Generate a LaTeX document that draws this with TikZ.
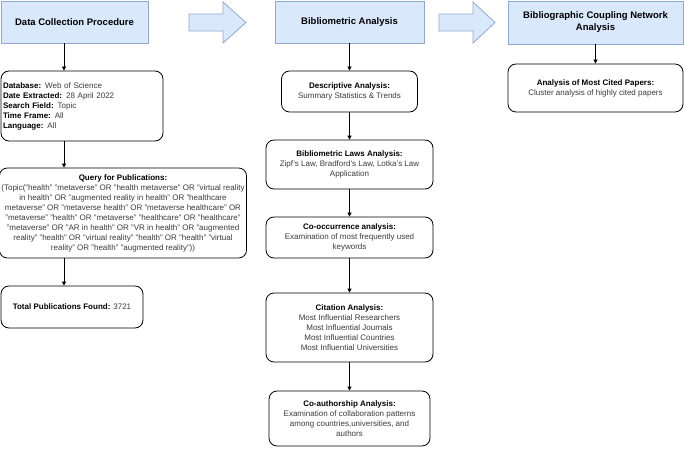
\documentclass[tikz,border=0pt]{standalone}
\usepackage{fontspec}
\setmainfont{Liberation Sans}
\usetikzlibrary{positioning}
\usetikzlibrary{arrows.meta,shapes}
\definecolor{hdrfill}{HTML}{DAE8FC}
\definecolor{hdrline}{HTML}{8EA9CF}
\definecolor{bodytxt}{HTML}{3A3A3A}
\newcommand{\steplabel}[1]{\textcolor{black}{\textbf{#1}}}

\begin{document}
\begin{tikzpicture}[x=1pt, y=-1pt,
  hdr/.style={draw=hdrline, fill=hdrfill, line width=0.8pt, inner sep=2pt, align=center,
    font=\fontsize{9.5}{12}\selectfont\bfseries},
  blockarrow/.style={draw=hdrline, fill=hdrfill, line width=0.8pt},
  stepbox/.style={draw=black, text=bodytxt, line width=0.8pt, rounded corners=8pt, inner sep=2pt, align=center,
    font=\fontsize{8}{10}\selectfont},
  link/.style={-{Triangle[length=4pt,width=4pt]}, line width=0.8pt}]

 \useasboundingbox (0,0) rectangle (685,449);

 %headers
 \node[hdr, minimum width=147, minimum height=42] (collect) at (74.5,22) {Data Collection Procedure};
 \node[hdr, minimum width=149, minimum height=42] (biblio) at (349.5,22) {Bibliometric Analysis};
 \node[hdr, minimum width=175, minimum height=43] (coupling) at (595.5,22.5) {Bibliographic Coupling Network\\Analysis};

 %block arrows
 \foreach \xa/\xb/\xc in {189/223/246, 439/473/495} {
   \draw[blockarrow] (\xa,14) -- (\xb,14) -- (\xb,2) -- (\xc,22.5) -- (\xb,43) -- (\xb,31) -- (\xa,31) -- cycle;
 }

 %data collection
 \node[stepbox, minimum width=162, minimum height=70, text width=158, align=left] (dbase) at (82,106)
   {\steplabel{Database:} Web of Science\\
    \steplabel{Date Extracted:} 28 April 2022\\
    \steplabel{Search Field:} Topic\\
    \steplabel{Time Frame:} All\\
    \steplabel{Language:} All};
 \node[stepbox, minimum width=244, minimum height=90] (query) at (123,213)
   {\steplabel{Query for Publications:}\\
    (Topic("health" "metaverse" OR "health metaverse" OR "virtual reality\\
    in health" OR "augmented reality in health" OR "healthcare\\
    metaverse" OR "metaverse health" OR "metaverse healthcare" OR\\
    "metaverse" "health" OR "metaverse" "healthcare" OR "healthcare"\\
    "metaverse" OR "AR in health" OR "VR in health" OR "augmented\\
    reality" "health" OR "virtual reality" "health" OR "health" "virtual\\
    reality" OR "health" "augmented reality"))};
 \node[stepbox, minimum width=142, minimum height=42] (total) at (72,307)
   {\steplabel{Total Publications Found:} 3721};

 %bibliometric analysis
 \node[stepbox, minimum width=136, minimum height=41] (descr) at (349.5,91.5)
   {\steplabel{Descriptive Analysis:}\\ Summary Statistics \& Trends};
 \node[stepbox, minimum width=167, minimum height=49] (laws) at (349.5,164.5)
   {\steplabel{Bibliometric Laws Analysis:}\\ Zipf's Law, Bradford's Law, Lotka's Law\\ Application};
 \node[stepbox, minimum width=167, minimum height=41] (cooc) at (349.5,237.5)
   {\steplabel{Co-occurrence analysis:}\\ Examination of most frequently used\\ keywords};
 \node[stepbox, minimum width=167, minimum height=69] (cite) at (349.5,327.5)
   {\steplabel{Citation Analysis:}\\ Most Influential Researchers\\ Most Influential Journals\\
    Most Influential Countries\\ Most Influential Universities};
 \node[stepbox, minimum width=161, minimum height=55] (coauth) at (349.5,418.5)
   {\steplabel{Co-authorship Analysis:}\\ Examination of collaboration patterns\\
    among countries,universities, and\\ authors};

 %coupling network
 \node[stepbox, minimum width=175, minimum height=48] (cited) at (595.5,88)
   {\steplabel{Analysis of Most Cited Papers:}\\ Cluster analysis of highly cited papers};

 %connectors
 \coordinate (lane) at (64,0);
 \foreach \a/\b in {collect/dbase, dbase/query, query/total} {
   \draw[link] (\a.south -| lane) -- (\b.north -| lane);
 }
 \foreach \a/\b in {biblio/descr, descr/laws, laws/cooc, cooc/cite, cite/coauth, coupling/cited} {
   \draw[link] (\a.south) -- (\b.north);
 }

\end{tikzpicture}
\end{document}
